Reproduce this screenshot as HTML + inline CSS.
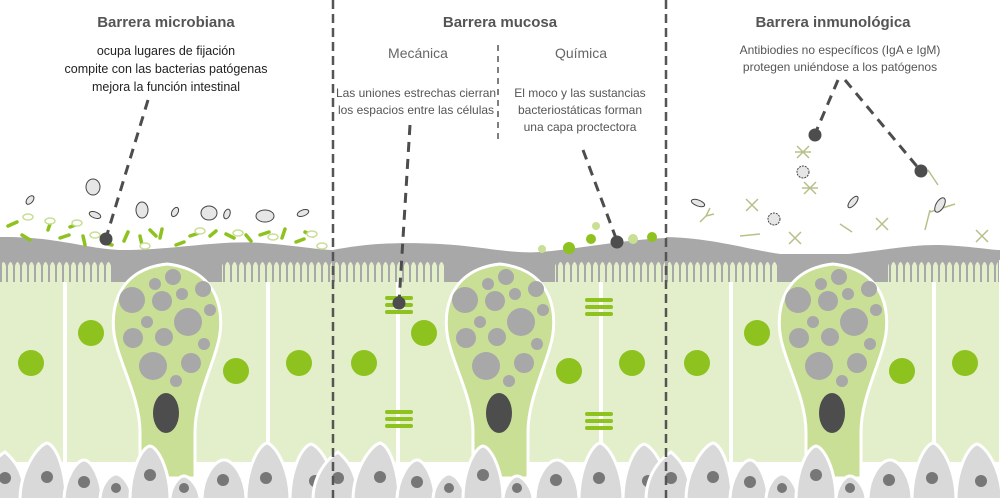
<!DOCTYPE html>
<html><head><meta charset="utf-8"><style>
html,body{margin:0;padding:0;background:#fff;}
svg{display:block;}
text{font-family:"Liberation Sans",sans-serif;}
</style></head><body>
<svg width="1000" height="498" viewBox="0 0 1000 498" xmlns="http://www.w3.org/2000/svg">
<defs>
<pattern id="villi" x="0" y="258" width="7" height="26" patternUnits="userSpaceOnUse">
<path d="M1,26 L1,8 Q3.5,0 6,8 L6,26 Z" fill="#e3efcb"/>
</pattern>
<g id="panel">
<rect x="0" y="254" width="333" height="29" fill="#a8a8a8"/>
<rect x="2" y="258" width="110" height="24" fill="url(#villi)"/>
<rect x="222" y="258" width="110" height="24" fill="url(#villi)"/>
<rect x="0" y="282" width="333" height="180" fill="#e3efcb"/>
<rect x="63" y="282" width="4" height="180" fill="#fff"/>
<rect x="266" y="282" width="4" height="180" fill="#fff"/>
<path d="M140,478 L140,432 C140,402 124,372 117,347 C108,318 112,270 167,264 C222,270 226,318 217,347 C210,372 195,402 195,432 L195,478 Z" fill="#c9df95" stroke="#fff" stroke-width="3"/>
<g fill="#a8a8a8">
<circle cx="173" cy="277" r="8"/>
<circle cx="132" cy="300" r="13"/><circle cx="155" cy="284" r="6"/><circle cx="162" cy="301" r="10"/>
<circle cx="182" cy="294" r="6"/><circle cx="203" cy="289" r="8"/><circle cx="210" cy="310" r="6"/>
<circle cx="188" cy="322" r="14"/><circle cx="147" cy="322" r="6"/><circle cx="133" cy="338" r="10"/>
<circle cx="164" cy="337" r="9"/><circle cx="204" cy="344" r="6"/><circle cx="153" cy="366" r="14"/>
<circle cx="191" cy="363" r="10"/><circle cx="176" cy="381" r="6"/>
</g>
<ellipse cx="166" cy="413" rx="13" ry="20" fill="#4d4d4d"/>
<g fill="#8dc21f">
<circle cx="31" cy="363" r="13"/><circle cx="91" cy="333" r="13"/><circle cx="236" cy="371" r="13"/><circle cx="299" cy="363" r="13"/>
</g>
<g fill="#d9d9d9" stroke="#fff" stroke-width="3">
<path d="M-20,500 C-20,470 0,455 5,452 C12,458 25,470 25,500 Z"/>
<path d="M20,500 C20,470 38,445 47,443 C56,445 66,470 66,500 Z"/>
<path d="M64,500 C64,480 76,460 84,460 C92,460 102,480 102,500 Z"/>
<path d="M100,500 C100,485 110,474 116,474 C122,474 132,485 132,500 Z"/>
<path d="M130,500 C130,470 142,447 150,446 C158,447 170,470 170,500 Z"/>
<path d="M170,500 C170,488 178,476 184,476 C190,476 200,488 200,500 Z"/>
<path d="M202,500 C202,478 214,460 224,460 C234,460 246,478 246,500 Z"/>
<path d="M246,500 C246,470 258,445 267,443 C276,445 290,470 290,500 Z"/>
<path d="M290,500 C290,470 302,446 311,444 C320,446 336,470 336,500 Z"/>
</g>
<g fill="#777">
<circle cx="5" cy="478" r="6"/><circle cx="47" cy="477" r="6"/><circle cx="84" cy="482" r="6"/>
<circle cx="116" cy="488" r="5"/><circle cx="150" cy="475" r="6"/><circle cx="184" cy="488" r="5"/>
<circle cx="223" cy="480" r="6"/><circle cx="266" cy="478" r="6"/><circle cx="315" cy="481" r="6"/>
</g>
</g>
</defs>

<use href="#panel"/>
<use href="#panel" x="333"/>
<use href="#panel" x="666"/>

<path d="M0,237 C60,236 90,251 130,250 C180,249 220,240 262,243 C300,246 320,250 334,250 L334,260 L0,260 Z" fill="#a8a8a8"/>
<path d="M333,250 C370,243 400,242 440,244 C480,246 510,254 540,252 C580,249 620,240 666,238 L666,260 L333,260 Z" fill="#a8a8a8"/>
<path d="M666,237 C720,238 760,254 800,256 C850,258 900,244 940,245 C970,246 990,250 1000,250 L1000,260 L666,260 Z" fill="#a8a8a8"/>

<g stroke="#555" stroke-width="2.5" stroke-dasharray="9,5">
<line x1="333" y1="0" x2="333" y2="498"/>
<line x1="666" y1="0" x2="666" y2="498"/>
</g>
<line x1="498" y1="45" x2="498" y2="140" stroke="#555" stroke-width="1.5" stroke-dasharray="6,5"/>

<g stroke="#8dc21f" stroke-width="3.5" stroke-linecap="round" fill="none">
<path d="M8,226 l9,-4"/><path d="M22,235 l8,5"/><path d="M48,230 l3,-9"/><path d="M60,238 l9,-3"/>
<path d="M70,227 l8,-3"/><path d="M83,236 l2,9"/><path d="M104,243 l8,2"/><path d="M124,241 l4,-9"/>
<path d="M140,236 l2,9"/><path d="M150,230 l6,6"/><path d="M160,238 l2,-9"/><path d="M176,245 l8,-3"/>
<path d="M190,236 l9,-3"/><path d="M210,236 l6,-5"/><path d="M226,234 l8,4"/><path d="M246,235 l5,6"/>
<path d="M260,235 l9,-3"/><path d="M282,238 l3,-9"/><path d="M296,242 l8,-3"/><path d="M305,232 l8,4"/>
</g>
<g stroke="#c9df95" stroke-width="1.5" fill="#fff">
<ellipse cx="28" cy="217" rx="5" ry="3"/><ellipse cx="50" cy="221" rx="5" ry="3"/><ellipse cx="77" cy="223" rx="5" ry="3"/>
<ellipse cx="95" cy="235" rx="5" ry="3"/><ellipse cx="145" cy="246" rx="5" ry="3"/><ellipse cx="200" cy="231" rx="5" ry="3"/>
<ellipse cx="238" cy="233" rx="5" ry="3"/><ellipse cx="273" cy="237" rx="5" ry="3"/><ellipse cx="312" cy="234" rx="5" ry="3"/>
<ellipse cx="322" cy="246" rx="5" ry="3"/>
</g>
<g stroke="#444" stroke-width="1" fill="#e6e6e6">
<ellipse cx="30" cy="200" rx="5" ry="3" transform="rotate(-50 30 200)"/>
<ellipse cx="95" cy="215" rx="6" ry="3" transform="rotate(20 95 215)"/>
<ellipse cx="175" cy="212" rx="5" ry="3" transform="rotate(-60 175 212)"/>
<ellipse cx="227" cy="214" rx="5" ry="3" transform="rotate(-70 227 214)"/>
<ellipse cx="303" cy="213" rx="6" ry="3" transform="rotate(-20 303 213)"/>
<ellipse cx="93" cy="187" rx="7" ry="8"/><ellipse cx="142" cy="210" rx="6" ry="8"/>
<ellipse cx="209" cy="213" rx="8" ry="7"/><ellipse cx="265" cy="216" rx="9" ry="6"/>
</g>
<line x1="148" y1="100" x2="106" y2="238" stroke="#4d4d4d" stroke-width="3" stroke-dasharray="10,7"/>
<circle cx="106" cy="239" r="6.5" fill="#4d4d4d"/>

<g fill="#8dc21f">
<rect x="385" y="296" width="28" height="4" rx="2"/><rect x="385" y="303" width="28" height="4" rx="2"/><rect x="385" y="310" width="28" height="4" rx="2"/>
<rect x="385" y="410" width="28" height="4" rx="2"/><rect x="385" y="417" width="28" height="4" rx="2"/><rect x="385" y="424" width="28" height="4" rx="2"/>
<rect x="585" y="298" width="28" height="4" rx="2"/><rect x="585" y="305" width="28" height="4" rx="2"/><rect x="585" y="312" width="28" height="4" rx="2"/>
<rect x="585" y="412" width="28" height="4" rx="2"/><rect x="585" y="419" width="28" height="4" rx="2"/><rect x="585" y="426" width="28" height="4" rx="2"/>
<circle cx="569" cy="248" r="6"/><circle cx="591" cy="239" r="5"/><circle cx="652" cy="237" r="5"/>
</g>
<g fill="#c9df95"><circle cx="542" cy="249" r="4"/><circle cx="596" cy="226" r="4"/><circle cx="633" cy="239" r="5"/></g>
<line x1="410" y1="125" x2="399" y2="303" stroke="#4d4d4d" stroke-width="3" stroke-dasharray="10,7"/>
<circle cx="399" cy="303" r="6.5" fill="#4d4d4d"/>
<line x1="583" y1="150" x2="617" y2="241" stroke="#4d4d4d" stroke-width="3" stroke-dasharray="10,7"/>
<circle cx="617" cy="242" r="6.5" fill="#4d4d4d"/>

<g stroke="#b8c08a" stroke-width="1.5" fill="none">
<path d="M803,152 l-6,-6 M803,152 l6,-6 M803,152 l-6,6 M803,152 l6,6 M803,152 l-8,0 M803,152 l8,0"/>
<path d="M810,188 l-6,-6 M810,188 l6,-6 M810,188 l-6,6 M810,188 l6,6 M810,188 l-8,0 M810,188 l8,0"/>
<path d="M752,205 l-6,-6 M752,205 l6,-6 M752,205 l-6,6 M752,205 l6,6"/>
<path d="M795,238 l-6,-6 M795,238 l6,-6 M795,238 l-6,6 M795,238 l6,6"/>
<path d="M882,224 l-6,-6 M882,224 l6,-6 M882,224 l-6,6 M882,224 l6,6"/>
<path d="M982,236 l-6,-6 M982,236 l6,-6 M982,236 l-6,6 M982,236 l6,6"/>
<path d="M700,222 l6,-6 M706,216 l4,-8 M706,216 l8,-2"/>
<path d="M740,236 l20,-2 M840,224 l12,8 M930,212 l25,-8 M925,230 l5,-20 M938,185 l-10,-15"/>
</g>
<g stroke="#444" stroke-width="1" fill="#e6e6e6">
<ellipse cx="698" cy="203" rx="7" ry="3" transform="rotate(20 698 203)"/>
<ellipse cx="853" cy="202" rx="7" ry="3" transform="rotate(-50 853 202)"/>
<ellipse cx="940" cy="205" rx="8" ry="4" transform="rotate(-60 940 205)"/>
<circle cx="803" cy="172" r="6" stroke-dasharray="2,1"/><circle cx="774" cy="219" r="6" stroke-dasharray="2,1"/>
</g>
<line x1="838" y1="80" x2="815" y2="134" stroke="#4d4d4d" stroke-width="3" stroke-dasharray="10,7"/>
<line x1="845" y1="80" x2="920" y2="170" stroke="#4d4d4d" stroke-width="3" stroke-dasharray="10,7"/>
<circle cx="815" cy="135" r="6.5" fill="#4d4d4d"/>
<circle cx="921" cy="171" r="6.5" fill="#4d4d4d"/>

<g font-weight="bold" font-size="15" fill="#555" text-anchor="middle">
<text x="166" y="27">Barrera microbiana</text>
<text x="500" y="27">Barrera mucosa</text>
<text x="833" y="27">Barrera inmunológica</text>
</g>
<g font-size="12.5" fill="#222" text-anchor="middle">
<text x="166" y="55">ocupa lugares de fijación</text>
<text x="166" y="73">compite con las bacterias patógenas</text>
<text x="166" y="91">mejora la función intestinal</text>
</g>
<g font-size="14" fill="#666" text-anchor="middle">
<text x="418" y="58">Mecánica</text>
<text x="581" y="58">Química</text>
</g>
<g font-size="12" fill="#555" text-anchor="middle">
<text x="416" y="97">Las uniones estrechas cierran</text>
<text x="416" y="114">los espacios entre las células</text>
<text x="580" y="97">El moco y las sustancias</text>
<text x="580" y="114">bacteriostáticas forman</text>
<text x="580" y="131">una capa proctectora</text>
<text x="840" y="54">Antibiodies no específicos (IgA e IgM)</text>
<text x="840" y="71">protegen uniéndose a los patógenos</text>
</g>
</svg>
</body></html>
